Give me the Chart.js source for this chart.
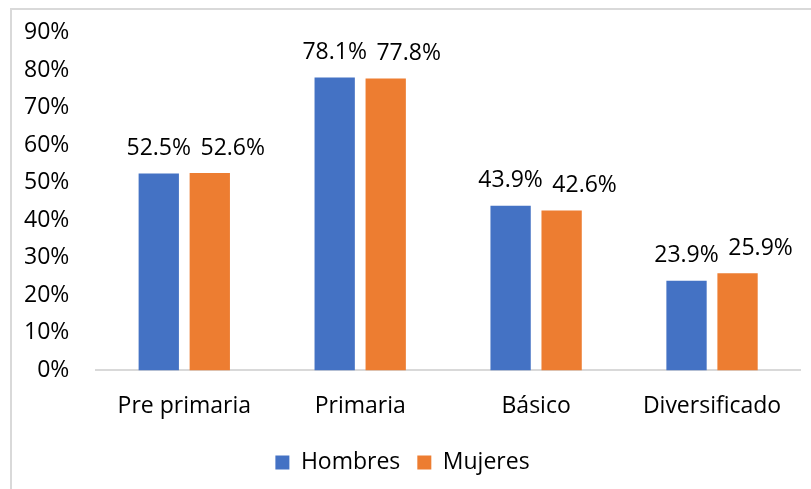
<!DOCTYPE html>
<html>
<head>
<meta charset="utf-8">
<script src="https://cdn.jsdelivr.net/npm/chart.js@4.4.0/dist/chart.umd.min.js"></script>
<style>
  body { margin: 0; background: #fff; }
  #frame { position: absolute; left: 10px; top: 8px; width: 900px; height: 600px; border: 2px solid #d9d9d9; }
  #wrap { position: absolute; left: 0; top: 0; width: 811px; height: 489px; }
</style>
</head>
<body>
<div id="frame"></div>
<div id="wrap"><canvas id="myBarChart"></canvas></div>
<script>
const categories = ['Pre primaria', 'Primaria', 'Básico', 'Diversificado'];
const hombres = [52.5, 78.1, 43.9, 23.9];
const mujeres = [52.6, 77.8, 42.6, 25.9];
const seriesNames = ['Hombres', 'Mujeres'];
const seriesColors = ['#4472c4', '#ed7d31'];

const fontFamily = '"Open Sans", sans-serif';
const fontSize = 23;

// draw the value above each bar, orange labels nudged right like Excel does
const valueLabels = {
  id: 'valueLabels',
  afterDatasetsDraw(chart) {
    const ctx = chart.ctx;
    ctx.save();
    ctx.font = fontSize + 'px ' + fontFamily;
    ctx.fillStyle = '#000';
    ctx.textAlign = 'center';
    ctx.textBaseline = 'middle';
    chart.data.datasets.forEach((ds, i) => {
      const meta = chart.getDatasetMeta(i);
      meta.data.forEach((bar, j) => {
        const shift = i === 1 ? 23 : 0;
        ctx.fillText(ds.data[j].toFixed(1) + '%', bar.x + shift, bar.y - 25);
      });
    });
    ctx.restore();
  }
};

new Chart("myBarChart", {
  type: "bar",
  data: {
    labels: categories,
    datasets: [
      { label: seriesNames[0], data: hombres, backgroundColor: seriesColors[0] },
      { label: seriesNames[1], data: mujeres, backgroundColor: seriesColors[1] }
    ]
  },
  options: {
    responsive: true,
    maintainAspectRatio: false,
    animation: false,
    layout: { padding: { left: 5, top: 22, right: 11, bottom: 5 } },
    datasets: { bar: { categoryPercentage: 0.58, barPercentage: 0.79 } },
    plugins: {
      legend: {
        position: 'bottom',
        labels: { font: { family: fontFamily, size: fontSize }, color: '#000', boxWidth: 14, boxHeight: 14, padding: 17 }
      },
      tooltip: { enabled: false }
    },
    scales: {
      x: {
        grid: { display: false },
        border: { color: '#d9d9d9', width: 2 },
        ticks: { font: { family: fontFamily, size: fontSize }, color: '#000', padding: 14 }
      },
      y: {
        min: 0, max: 90,
        grid: { display: false },
        border: { display: false },
        ticks: { stepSize: 10, font: { family: fontFamily, size: fontSize }, color: '#000', padding: 19,
          callback: v => v + '%' }
      }
    }
  },
  plugins: [valueLabels]
});
</script>
</body>
</html>
